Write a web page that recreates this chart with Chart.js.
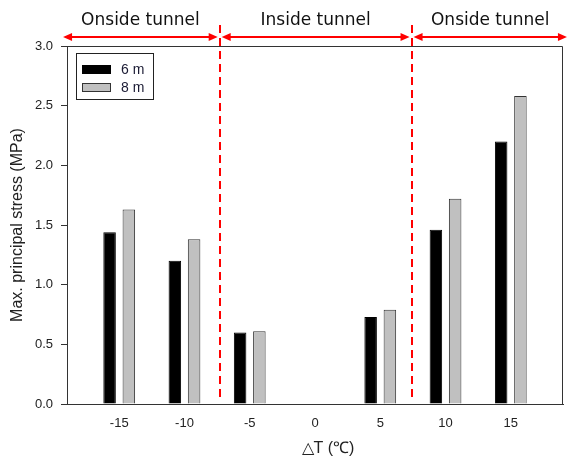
<!DOCTYPE html>
<html>
<head>
<meta charset="utf-8">
<script src="https://cdn.jsdelivr.net/npm/chart.js@4"></script>
<style>
    html, body { margin: 0; padding: 0; background: #fff; }
</style>
</head>
<body>
<canvas id="myChart" width="567" height="458"></canvas>
<script>
// data
var xValues = [-15, -10, -5, 5, 10, 15];
var stress6m = [1.44, 1.20, 0.60, 0.73, 1.46, 2.20];
var stress8m = [1.63, 1.38, 0.61, 0.79, 1.72, 2.58];
var seriesLabels = ['6 m', '8 m'];
var xTicks = [-15, -10, -5, 0, 5, 10, 15];
var yTicks = [0, 0.5, 1.0, 1.5, 2.0, 2.5, 3.0];
// tunnel zones (in ΔT units)
var zoneEdges = [-19.3, -7.3, 7.4, 19.3];
var zoneNames = ['Onside tunnel', 'Inside tunnel', 'Onside tunnel'];

function toPoints(ys) {
    return xValues.map(function (x, i) { return { x: x, y: ys[i] }; });
}

function drawArrow(ctx, a, b, y) {
    var hl = 9, hw = 4;
    ctx.beginPath();
    ctx.moveTo(a + hl - 1, y);
    ctx.lineTo(b - hl + 1, y);
    ctx.stroke();
    ctx.beginPath();
    ctx.moveTo(a, y); ctx.lineTo(a + hl, y - hw); ctx.lineTo(a + hl, y + hw); ctx.closePath();
    ctx.fill();
    ctx.beginPath();
    ctx.moveTo(b, y); ctx.lineTo(b - hl, y - hw); ctx.lineTo(b - hl, y + hw); ctx.closePath();
    ctx.fill();
}

var extrasPlugin = {
    id: 'extras',
    afterDatasetsDraw: function (chart) {
        var ctx = chart.ctx, xs = chart.scales.x, area = chart.chartArea;
        ctx.save();

        // top and right frame
        ctx.strokeStyle = '#333';
        ctx.lineWidth = 1;
        ctx.beginPath();
        ctx.moveTo(area.left, area.top + 0.5);
        ctx.lineTo(area.right - 0.5, area.top + 0.5);
        ctx.lineTo(area.right - 0.5, area.bottom);
        ctx.stroke();
        // bottom axis sticks out a bit to the left
        ctx.beginPath();
        ctx.moveTo(area.left - 4, area.bottom + 0.5);
        ctx.lineTo(area.left, area.bottom + 0.5);
        ctx.stroke();

        // red dashed zone dividers
        ctx.strokeStyle = '#ff0000';
        ctx.fillStyle = '#ff0000';
        ctx.lineWidth = 2;
        ctx.setLineDash([8, 5]);
        for (var i = 1; i < zoneEdges.length - 1; i++) {
            var px = Math.round(xs.getPixelForValue(zoneEdges[i]));
            ctx.beginPath();
            ctx.moveTo(px, 25);
            ctx.lineTo(px, area.bottom - 6);
            ctx.stroke();
        }
        ctx.setLineDash([]);

        // arrows + zone names
        ctx.font = '17px "DejaVu Sans", sans-serif';
        ctx.textAlign = 'center';
        ctx.textBaseline = 'alphabetic';
        for (i = 0; i < zoneNames.length; i++) {
            var a = xs.getPixelForValue(zoneEdges[i]) + (i > 0 ? 2 : 0);
            var b = xs.getPixelForValue(zoneEdges[i + 1]) - (i < zoneNames.length - 1 ? 2 : 0);
            ctx.fillStyle = '#ff0000';
            drawArrow(ctx, a, b, 37);
            ctx.fillStyle = '#111';
            ctx.fillText(zoneNames[i], (a + b) / 2, 25);
        }

        // x axis title
        ctx.font = '16px "Liberation Sans", Arial, sans-serif';
        ctx.fillStyle = '#222';
        ctx.textBaseline = 'middle';
        ctx.fillText('\u25B3T (\u2103)', (area.left + area.right) / 2 + 13, 449);

        // legend box
        var lx = 76, ly = 53, lw = 77, lh = 46;
        ctx.strokeStyle = '#222';
        ctx.lineWidth = 1;
        ctx.strokeRect(lx + 0.5, ly + 0.5, lw, lh);
        ctx.font = '14px "Liberation Sans", Arial, sans-serif';
        ctx.textAlign = 'left';
        chart.data.datasets.forEach(function (ds, k) {
            var sy = ly + 12 + k * 18;
            ctx.fillStyle = ds.backgroundColor;
            ctx.fillRect(lx + 6, sy, 29, 9);
            ctx.strokeStyle = ds.borderColor;
            ctx.strokeRect(lx + 6.5, sy + 0.5, 28, 8);
            ctx.fillStyle = '#1a1a33';
            ctx.fillText(ds.label, lx + 45, sy + 5);
        });

        ctx.restore();
    }
};

var ctx = document.getElementById('myChart').getContext('2d');
var myChart = new Chart(ctx, {
    type: 'bar',
    data: {
        datasets: [{
            label: seriesLabels[0],
            data: toPoints(stress6m),
            backgroundColor: '#000000',
            borderColor: '#000000',
            borderWidth: 1
        }, {
            label: seriesLabels[1],
            data: toPoints(stress8m),
            backgroundColor: '#c0c0c0',
            borderColor: '#333333',
            borderWidth: 1
        }]
    },
    options: {
        responsive: false,
        animation: false,
        categoryPercentage: 0.59,
        barPercentage: 0.65,
        layout: { padding: { top: 46, right: 4, left: 0, bottom: 0 } },
        plugins: {
            legend: { display: false },
            tooltip: { enabled: false }
        },
        scales: {
            x: {
                type: 'linear',
                min: -19,
                max: 19,
                offset: false,
                afterBuildTicks: function (scale) {
                    scale.ticks = xTicks.map(function (v) { return { value: v }; });
                },
                afterFit: function (scale) { scale.height = 54; },
                grid: { display: false, drawTicks: false },
                border: { display: true, color: '#333', width: 1 },
                ticks: {
                    padding: 12,
                    color: '#222',
                    font: { family: '"Liberation Sans", Arial, sans-serif', size: 13 },
                    maxRotation: 0,
                    callback: function (v) { return String(v); }
                }
            },
            y: {
                min: 0,
                max: 3,
                afterBuildTicks: function (scale) {
                    scale.ticks = yTicks.map(function (v) { return { value: v }; });
                },
                afterFit: function (scale) { scale.width = 67; },
                grid: { display: true, drawOnChartArea: false, drawTicks: true, tickLength: 6, color: '#333' },
                border: { display: true, color: '#333', width: 1 },
                ticks: {
                    padding: 8,
                    color: '#222',
                    font: { family: '"Liberation Sans", Arial, sans-serif', size: 13 },
                    callback: function (v) { return Number(v).toFixed(1); }
                },
                title: {
                    display: true,
                    text: 'Max. principal stress (MPa)',
                    color: '#222',
                    padding: { top: 8, bottom: 0 },
                    font: { family: '"Liberation Sans", Arial, sans-serif', size: 16 }
                }
            }
        }
    },
    plugins: [extrasPlugin]
});
</script>
</body>
</html>
